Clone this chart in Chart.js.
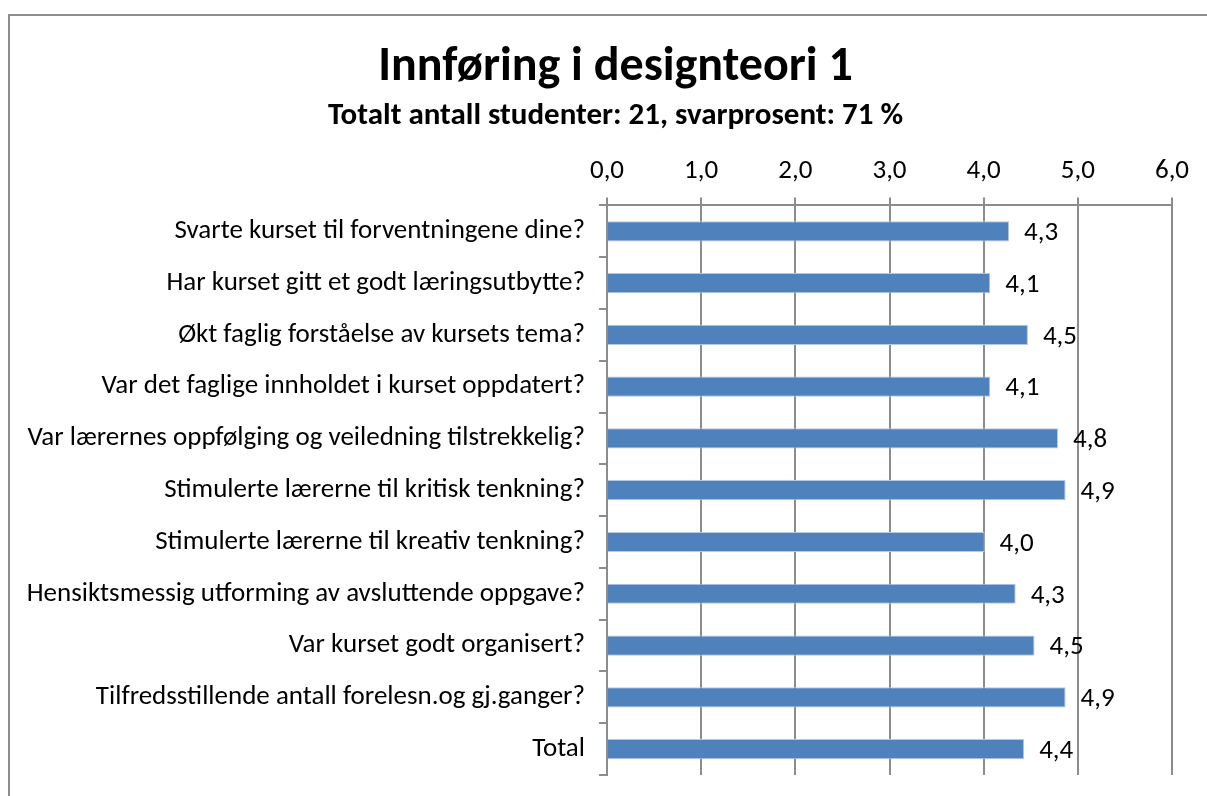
<!DOCTYPE html>
<html>
<head>
<meta charset="utf-8">
<script src="https://cdn.jsdelivr.net/npm/chart.js@4.4.0/dist/chart.umd.min.js"></script>
<style>
  body { margin: 0; background: #fff; }
  #wrap { position: relative; width: 1207px; height: 796px; overflow: hidden; }
  #frame { position: absolute; left: 8px; top: 14px; width: 1230px; height: 820px; border: 2px solid #8c8c8c; }
  canvas { position: absolute; left: 0; top: 0; }
</style>
</head>
<body>
<div id="wrap">
  <div id="frame"></div>
  <canvas id="chart" width="1207" height="796"></canvas>
</div>
<script>
// Questions (top to bottom)
const questions = [
    'Svarte kurset til forventningene dine?',
    'Har kurset gitt et godt læringsutbytte?',
    'Økt faglig forståelse av kursets tema?',
    'Var det faglige innholdet i kurset oppdatert?',
    'Var lærernes oppfølging og veiledning tilstrekkelig?',
    'Stimulerte lærerne til kritisk tenkning?',
    'Stimulerte lærerne til kreativ tenkning?',
    'Hensiktsmessig utforming av avsluttende oppgave?',
    'Var kurset godt organisert?',
    'Tilfredsstillende antall forelesn.og gj.ganger?',
    'Total'
];
// Average score per question
const scores = [4.27, 4.07, 4.47, 4.07, 4.79, 4.87, 4.01, 4.34, 4.54, 4.87, 4.43];

const axisMin = 0;
const axisMax = 6;
const axisStep = 1;

const titleText = 'Innføring i designteori 1';
const subtitleText = 'Totalt antall studenter: 21, svarprosent: 71 %';

const FONT = 'Carlito, Lato, "Liberation Sans", sans-serif';
const fmt = v => Number(v).toFixed(1).replace('.', ',');

// Title block centred on the frame (the built-in title centres on the padded box)
const headings = {
    id: 'headings',
    afterDraw(chart) {
        const ctx = chart.ctx;
        const cx = chart.width / 2 + 12;
        ctx.save();
        ctx.fillStyle = '#000';
        ctx.textAlign = 'center';
        ctx.textBaseline = 'middle';
        ctx.font = 'bold 48px ' + FONT;
        ctx.fillText(titleText, cx, 68);
        ctx.font = 'bold 31px ' + FONT;
        ctx.fillText(subtitleText, cx, 116);
        ctx.restore();
    }
};

// Value labels at the end of each bar
const valueLabels = {
    id: 'valueLabels',
    afterDatasetsDraw(chart) {
        const ctx = chart.ctx;
        const meta = chart.getDatasetMeta(0);
        ctx.save();
        ctx.font = '27px ' + FONT;
        ctx.fillStyle = '#000';
        ctx.textAlign = 'left';
        ctx.textBaseline = 'middle';
        meta.data.forEach((bar, i) => {
            ctx.fillText(fmt(scores[i]), bar.x + 15, bar.y + 2);
        });
        ctx.restore();
    }
};

const ctx = document.getElementById('chart').getContext('2d');
new Chart(ctx, {
    type: 'bar',
    data: {
        labels: questions,
        datasets: [{
            data: scores,
            backgroundColor: '#4F81BD',
            borderColor: '#b3c8e3',
            borderWidth: 1,
            categoryPercentage: 1,
            barPercentage: 0.39
        }]
    },
    options: {
        indexAxis: 'y',
        responsive: false,
        animation: false,
        layout: { padding: { left: 10, right: 35, top: 145, bottom: 21 } },
        plugins: {
            legend: { display: false },
            tooltip: { enabled: false },
            title: { display: false }
        },
        scales: {
            x: {
                position: 'top',
                min: axisMin,
                max: axisMax,
                ticks: {
                    stepSize: axisStep,
                    color: '#000',
                    font: { family: FONT, size: 27 },
                    padding: 10,
                    callback: v => fmt(v)
                },
                grid: { color: '#8c8c8c', lineWidth: 2, tickLength: 8 },
                border: { color: '#8c8c8c', width: 2 }
            },
            y: {
                ticks: {
                    color: '#000',
                    font: { family: FONT, size: 27 },
                    padding: 14,
                    autoSkip: false
                },
                grid: { drawOnChartArea: false, color: '#8c8c8c', lineWidth: 2, tickLength: 8 },
                border: { color: '#8c8c8c', width: 2 },
                afterFit: scale => {
                    scale.width = 597;
                    scale.paddingTop = 0;
                    scale.paddingBottom = 0;
                }
            }
        }
    },
    plugins: [valueLabels, headings]
});
</script>
</body>
</html>
